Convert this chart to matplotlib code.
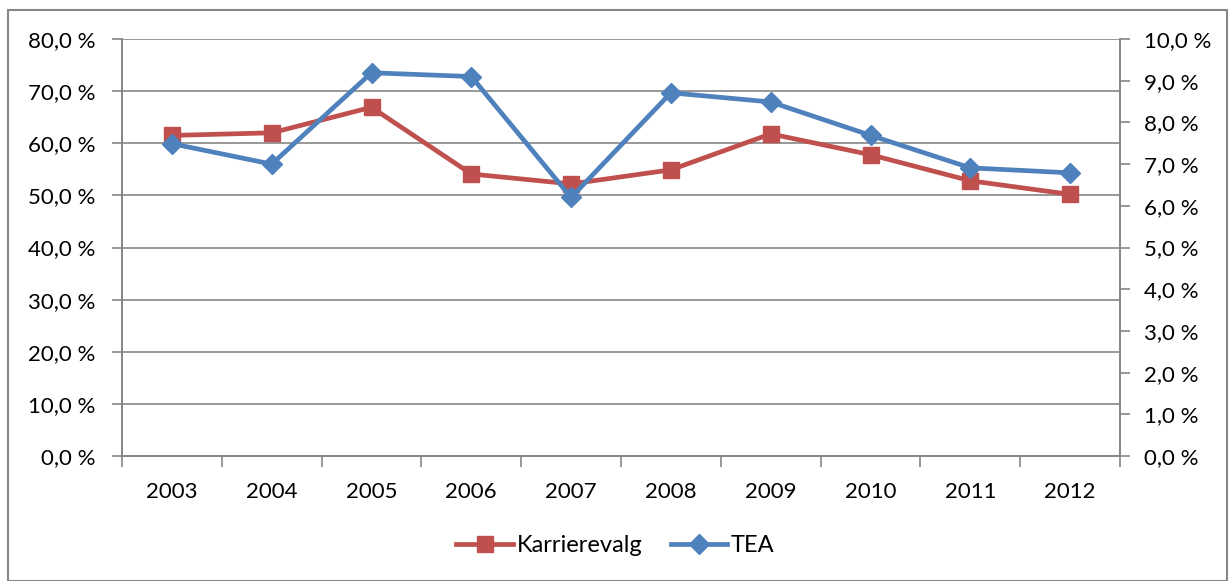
import matplotlib
matplotlib.use('Agg')
import matplotlib.pyplot as plt
from matplotlib.ticker import FuncFormatter
from matplotlib.lines import Line2D
from matplotlib.patches import Rectangle

years = ['2003', '2004', '2005', '2006', '2007', '2008', '2009', '2010', '2011', '2012']
karrierevalg = [61.5, 62.0, 66.9, 54.1, 52.2, 54.9, 61.8, 57.8, 52.8, 50.2]
tea = [7.49, 7.0, 9.19, 9.1, 6.2, 8.71, 8.49, 7.69, 6.91, 6.79]

red = '#C0504D'
blue = '#4F81BD'
grey = '#868686'

plt.rcParams['font.family'] = ['Lato', 'DejaVu Sans']

fig = plt.figure(figsize=(12.31, 5.81), dpi=100)
fig.patches.append(Rectangle((8 / 1231, 0), 1219 / 1231, 1 - 10 / 581,
                             transform=fig.transFigure, fill=False,
                             edgecolor=grey, linewidth=1.5))

ax = fig.add_axes([122 / 1231, 1 - 456 / 581, 998 / 1231, 417 / 581])
ax2 = ax.twinx()

x = list(range(len(years)))
ax.plot(x, karrierevalg, color=red, linewidth=3.4, marker='s', markersize=12,
        zorder=3)
ax2.plot(x, tea, color=blue, linewidth=3.4, marker='D', markersize=10,
         zorder=3)

ax.set_ylim(0, 80)
ax.set_yticks(range(0, 81, 10))
ax2.set_ylim(0, 10)
ax2.set_yticks(range(0, 11, 1))
ax.yaxis.set_major_formatter(FuncFormatter(lambda v, p: f'{v:.1f} %'.replace('.', ',')))
ax2.yaxis.set_major_formatter(FuncFormatter(lambda v, p: f'{v:.1f} %'.replace('.', ',')))

ax.set_xlim(-0.5, len(years) - 0.5)
ax.set_xticks([i - 0.5 for i in range(len(years) + 1)])
ax.set_xticklabels([])
ax.set_xticks(x, minor=True)
ax.set_xticklabels(years, minor=True)
ax.tick_params(axis='x', which='minor', length=0, pad=19, labelsize=16)
ax.tick_params(axis='x', which='major', length=8, color=grey, width=1.2)

ax.grid(axis='y', color=grey, linewidth=1.2)
ax.set_axisbelow(True)
ax.tick_params(axis='y', length=7, color=grey, width=1.2, labelsize=16, pad=12)
ax2.tick_params(axis='y', length=7, color=grey, width=1.2, labelsize=16, pad=10)

for a in (ax, ax2):
    a.spines['top'].set_visible(False)
    for s in ('left', 'right', 'bottom'):
        a.spines[s].set_color(grey)
        a.spines[s].set_linewidth(1.2)

handles = [Line2D([], [], color=red, linewidth=3.4, marker='s', markersize=12),
           Line2D([], [], color=blue, linewidth=3.4, marker='D', markersize=10)]
fig.legend(handles, ['Karrierevalg', 'TEA'], loc='center', bbox_to_anchor=(0.5, 1 - 546 / 581),
           ncol=2, frameon=False, fontsize=17, handlelength=2.4, handletextpad=0.15,
           columnspacing=1.2)

fig.savefig('out.png', dpi=100)
